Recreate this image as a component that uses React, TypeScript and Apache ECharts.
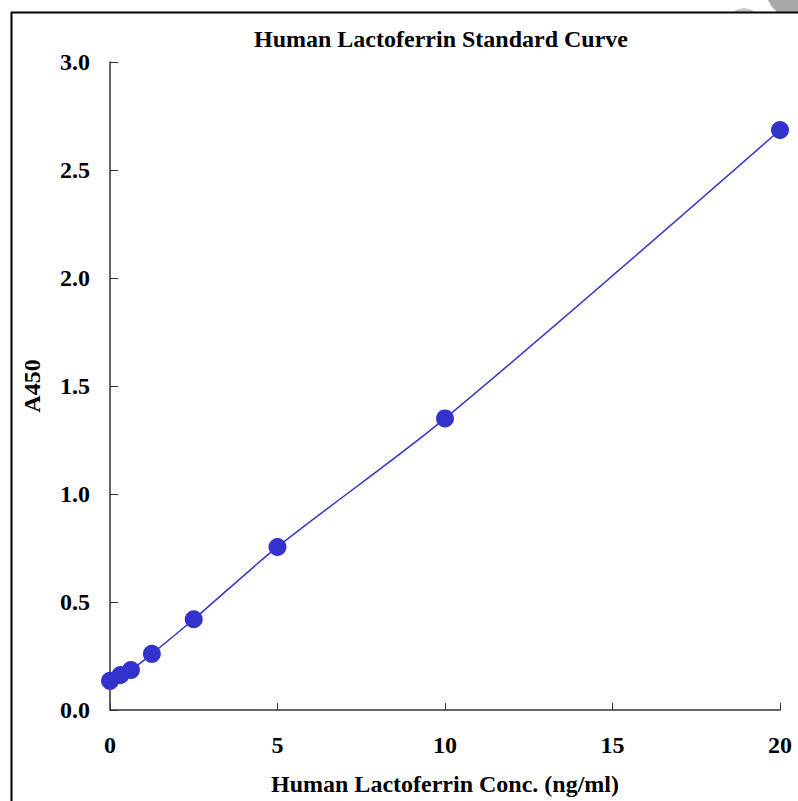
import React, { useEffect, useRef } from "react";
import * as echarts from "echarts";

const conc = [0, 0.3125, 0.625, 1.25, 2.5, 5, 10, 20];
const a450 = [0.135, 0.162, 0.185, 0.26, 0.42, 0.755, 1.35, 2.685];
const titleText = "Human Lactoferrin Standard Curve";
const xName = "Human Lactoferrin Conc. (ng/ml)";
const yName = "A450";

const FONT = "'Liberation Serif', 'Times New Roman', serif";

export default function App() {
  const ref = useRef<HTMLDivElement>(null);
  useEffect(() => {
    if (!ref.current) return;
    const chart = echarts.init(ref.current, undefined, { renderer: "svg" });
    const data = conc.map((c, i) => [c, a450[i]]);
    chart.setOption({
      animation: false,
      backgroundColor: "#ffffff",
      title: {
        text: titleText,
        left: 436,
        top: 22,
        textAlign: "center",
        textStyle: { fontFamily: FONT, fontWeight: "bold", fontSize: 24, color: "#000" },
      },
      grid: { left: 110, right: 18, top: 62, bottom: 91 },
      xAxis: {
        type: "value",
        min: 0,
        max: 20,
        interval: 5,
        name: xName,
        nameLocation: "middle",
        nameGap: 62,
        nameTextStyle: { fontFamily: FONT, fontWeight: "bold", fontSize: 24, color: "#000" },
        axisLine: { lineStyle: { color: "#333", width: 1.5 } },
        axisTick: { show: true, inside: true, length: 7, lineStyle: { color: "#333" } },
        axisLabel: { margin: 23, fontFamily: FONT, fontWeight: "bold", fontSize: 24, color: "#000" },
        splitLine: { show: false },
      },
      yAxis: {
        type: "value",
        min: 0,
        max: 3,
        interval: 0.5,
        name: yName,
        nameLocation: "middle",
        nameGap: 66,
        nameTextStyle: { fontFamily: FONT, fontWeight: "bold", fontSize: 24, color: "#000" },
        axisLine: { show: true, lineStyle: { color: "#333", width: 1.5 } },
        axisTick: { show: true, inside: true, length: 8, lineStyle: { color: "#333" } },
        axisLabel: {
          margin: 20,
          fontFamily: FONT,
          fontWeight: "bold",
          fontSize: 24,
          color: "#000",
          formatter: (v: number) => v.toFixed(1),
        },
        splitLine: { show: false },
      },
      series: [
        {
          type: "line",
          data,
          smooth: 0.3,
          symbol: "circle",
          symbolSize: 18,
          itemStyle: { color: "#3333CC" },
          lineStyle: { color: "#3333CC", width: 1.5 },
        },
      ],
      graphic: [
        { type: "polygon", shape: { points: [[733, 12], [737, 9.5], [744, 8], [751, 9.5], [755, 12]] }, style: { fill: "#c8c8c8" } },
        { type: "polygon", shape: { points: [[768, 0], [798, 0], [798, 12], [777, 12], [772, 7]] }, style: { fill: "#a8a8a8" } },
        { type: "line", shape: { x1: 11, y1: 12.5, x2: 798, y2: 12.5 }, style: { stroke: "#000", lineWidth: 2 } },
        { type: "line", shape: { x1: 11.5, y1: 12, x2: 11.5, y2: 801 }, style: { stroke: "#000", lineWidth: 2 } },
      ],
    });
    return () => chart.dispose();
  }, []);
  return (
    <div
      ref={ref}
      style={{ position: "fixed", left: 0, top: 0, width: 798, height: 801 }}
    />
  );
}
